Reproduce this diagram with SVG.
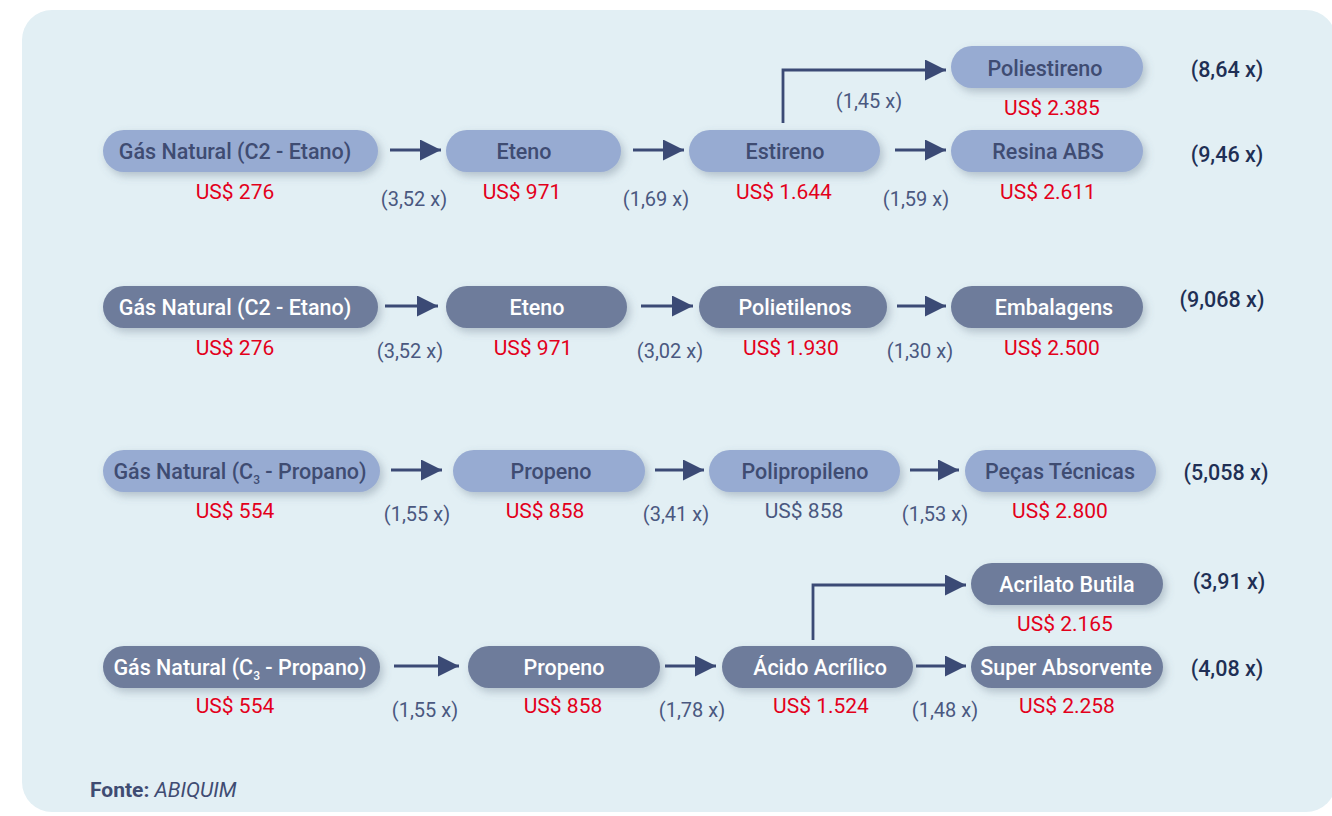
<svg xmlns="http://www.w3.org/2000/svg" width="1332" height="816" viewBox="0 0 1332 816">
<defs>
<filter id="sh" x="-10%" y="-30%" width="125%" height="180%">
<feDropShadow dx="3" dy="4" stdDeviation="4" flood-color="#5a6a80" flood-opacity="0.35"/>
</filter>
<marker id="ah" markerWidth="21" markerHeight="21" refX="21" refY="10.5" orient="auto" markerUnits="userSpaceOnUse">
<path d="M0,0 L21,10.5 L0,21 Z" fill="#3b4a75"/>
</marker>
<style>
.lt{fill:#97abd2}
.dk{fill:#6e7c9b}
.tl{font-family:Roboto,"Liberation Sans",sans-serif;font-weight:500;font-size:21.5px;fill:#3f4c72;text-anchor:middle}
.td{font-family:Roboto,"Liberation Sans",sans-serif;font-weight:500;font-size:21.5px;fill:#ffffff;text-anchor:middle}
.pr{font-family:Roboto,"Liberation Sans",sans-serif;font-size:21px;fill:#e3001b;text-anchor:middle}
.pg{font-family:Roboto,"Liberation Sans",sans-serif;font-size:21px;fill:#4a5880;text-anchor:middle}
.mx{font-family:Roboto,"Liberation Sans",sans-serif;font-size:20px;fill:#4a5880;text-anchor:middle}
.tot{font-family:Roboto,"Liberation Sans",sans-serif;font-weight:500;font-size:21.5px;fill:#1f2f55;text-anchor:middle}
.ln{fill:none;stroke:#3b4a75;stroke-width:2.8}
.src{font-family:Roboto,"Liberation Sans",sans-serif;font-size:21px;fill:#3f4c72}
</style>
</defs>
<rect x="22" y="10" width="1314" height="802" rx="30" fill="#e2eff4"/>

<g id="connectors">
<line class="ln" x1="390" y1="150" x2="441" y2="150" marker-end="url(#ah)"/>
<line class="ln" x1="633" y1="150" x2="684" y2="150" marker-end="url(#ah)"/>
<line class="ln" x1="895" y1="150" x2="946" y2="150" marker-end="url(#ah)"/>
<polyline class="ln" points="783,123 783,70 946,70" marker-end="url(#ah)"/>
<line class="ln" x1="385" y1="306" x2="438" y2="306" marker-end="url(#ah)"/>
<line class="ln" x1="641" y1="306" x2="693" y2="306" marker-end="url(#ah)"/>
<line class="ln" x1="897" y1="306" x2="946" y2="306" marker-end="url(#ah)"/>
<line class="ln" x1="391" y1="470" x2="442" y2="470" marker-end="url(#ah)"/>
<line class="ln" x1="655" y1="470" x2="704" y2="470" marker-end="url(#ah)"/>
<line class="ln" x1="910" y1="470" x2="959" y2="470" marker-end="url(#ah)"/>
<line class="ln" x1="394" y1="666" x2="459" y2="666" marker-end="url(#ah)"/>
<line class="ln" x1="665" y1="666" x2="716" y2="666" marker-end="url(#ah)"/>
<line class="ln" x1="916" y1="666" x2="966" y2="666" marker-end="url(#ah)"/>
<polyline class="ln" points="813,640 813,585 966,585" marker-end="url(#ah)"/>
</g>

<!-- Row 1 -->
<g id="r1-gas"><rect class="lt" filter="url(#sh)" x="103" y="130" width="275" height="42" rx="21"/><text class="tl" x="235" y="159">Gás Natural (C2 - Etano)</text><text class="pr" x="235" y="199">US$ 276</text></g>
<g id="r1-eteno"><rect class="lt" filter="url(#sh)" x="446" y="130" width="175" height="42" rx="21"/><text class="tl" x="524" y="159">Eteno</text><text class="pr" x="522" y="199">US$ 971</text></g>
<g id="r1-estireno"><rect class="lt" filter="url(#sh)" x="689" y="130" width="191" height="42" rx="21"/><text class="tl" x="785" y="159">Estireno</text><text class="pr" x="784" y="199">US$ 1.644</text></g>
<g id="r1-abs"><rect class="lt" filter="url(#sh)" x="951" y="130" width="192" height="42" rx="21"/><text class="tl" x="1048" y="159">Resina ABS</text><text class="pr" x="1048" y="199">US$ 2.611</text></g>
<g id="r1-poliestireno"><rect class="lt" filter="url(#sh)" x="951" y="46" width="192" height="42" rx="21"/><text class="tl" x="1045" y="76">Poliestireno</text><text class="pr" x="1052" y="115">US$ 2.385</text></g>
<g id="r1-labels">
<text class="mx" x="414" y="206">(3,52 x)</text>
<text class="mx" x="656" y="206">(1,69 x)</text>
<text class="mx" x="916" y="206">(1,59 x)</text>
<text class="mx" x="869" y="108">(1,45 x)</text>
<text class="tot" x="1227" y="77">(8,64 x)</text>
<text class="tot" x="1227" y="162">(9,46 x)</text>
</g>

<!-- Row 2 -->
<g id="r2-gas"><rect class="dk" filter="url(#sh)" x="103" y="286" width="275" height="42" rx="21"/><text class="td" x="235" y="315">Gás Natural (C2 - Etano)</text><text class="pr" x="235" y="355">US$ 276</text></g>
<g id="r2-eteno"><rect class="dk" filter="url(#sh)" x="446" y="286" width="181" height="42" rx="21"/><text class="td" x="537" y="315">Eteno</text><text class="pr" x="533" y="355">US$ 971</text></g>
<g id="r2-polietilenos"><rect class="dk" filter="url(#sh)" x="699" y="286" width="188" height="42" rx="21"/><text class="td" x="795" y="315">Polietilenos</text><text class="pr" x="791" y="355">US$ 1.930</text></g>
<g id="r2-embalagens"><rect class="dk" filter="url(#sh)" x="951" y="286" width="192" height="42" rx="21"/><text class="td" x="1054" y="315">Embalagens</text><text class="pr" x="1052" y="355">US$ 2.500</text></g>
<g id="r2-labels">
<text class="mx" x="410" y="358">(3,52 x)</text>
<text class="mx" x="670" y="358">(3,02 x)</text>
<text class="mx" x="920" y="358">(1,30 x)</text>
<text class="tot" x="1222" y="307">(9,068 x)</text>
</g>

<!-- Row 3 -->
<g id="r3-gas"><rect class="lt" filter="url(#sh)" x="103" y="450" width="277" height="42" rx="21"/><text class="tl" x="240" y="479">Gás Natural (C<tspan font-size="12" dy="5">3</tspan><tspan dy="-5"> - Propano)</tspan></text><text class="pr" x="235" y="518">US$ 554</text></g>
<g id="r3-propeno"><rect class="lt" filter="url(#sh)" x="453" y="450" width="192" height="42" rx="21"/><text class="tl" x="551" y="479">Propeno</text><text class="pr" x="545" y="518">US$ 858</text></g>
<g id="r3-polipropileno"><rect class="lt" filter="url(#sh)" x="709" y="450" width="191" height="42" rx="21"/><text class="tl" x="805" y="479">Polipropileno</text><text class="pg" x="804" y="518">US$ 858</text></g>
<g id="r3-pecas"><rect class="lt" filter="url(#sh)" x="965" y="450" width="191" height="42" rx="21"/><text class="tl" x="1060" y="479">Peças Técnicas</text><text class="pr" x="1060" y="518">US$ 2.800</text></g>
<g id="r3-labels">
<text class="mx" x="417" y="521">(1,55 x)</text>
<text class="mx" x="676" y="521">(3,41 x)</text>
<text class="mx" x="935" y="521">(1,53 x)</text>
<text class="tot" x="1226" y="480">(5,058 x)</text>
</g>

<!-- Row 4 -->
<g id="r4-gas"><rect class="dk" filter="url(#sh)" x="103" y="646" width="277" height="42" rx="21"/><text class="td" x="240" y="675">Gás Natural (C<tspan font-size="12" dy="5">3</tspan><tspan dy="-5"> - Propano)</tspan></text><text class="pr" x="235" y="713">US$ 554</text></g>
<g id="r4-propeno"><rect class="dk" filter="url(#sh)" x="468" y="646" width="192" height="42" rx="21"/><text class="td" x="564" y="675">Propeno</text><text class="pr" x="563" y="713">US$ 858</text></g>
<g id="r4-acido"><rect class="dk" filter="url(#sh)" x="722" y="646" width="191" height="42" rx="21"/><text class="td" x="820" y="675">Ácido Acrílico</text><text class="pr" x="821" y="713">US$ 1.524</text></g>
<g id="r4-super"><rect class="dk" filter="url(#sh)" x="971" y="646" width="192" height="42" rx="21"/><text class="td" x="1066" y="675">Super Absorvente</text><text class="pr" x="1067" y="713">US$ 2.258</text></g>
<g id="r4-acrilato"><rect class="dk" filter="url(#sh)" x="971" y="563" width="192" height="42" rx="21"/><text class="td" x="1067" y="592">Acrilato Butila</text><text class="pr" x="1065" y="631">US$ 2.165</text></g>
<g id="r4-labels">
<text class="mx" x="425" y="717">(1,55 x)</text>
<text class="mx" x="692" y="717">(1,78 x)</text>
<text class="mx" x="945" y="717">(1,48 x)</text>
<text class="tot" x="1229" y="589">(3,91 x)</text>
<text class="tot" x="1227" y="676">(4,08 x)</text>
</g>

<text class="src" x="90" y="797"><tspan font-weight="700">Fonte:</tspan> <tspan font-style="italic">ABIQUIM</tspan></text>
</svg>
